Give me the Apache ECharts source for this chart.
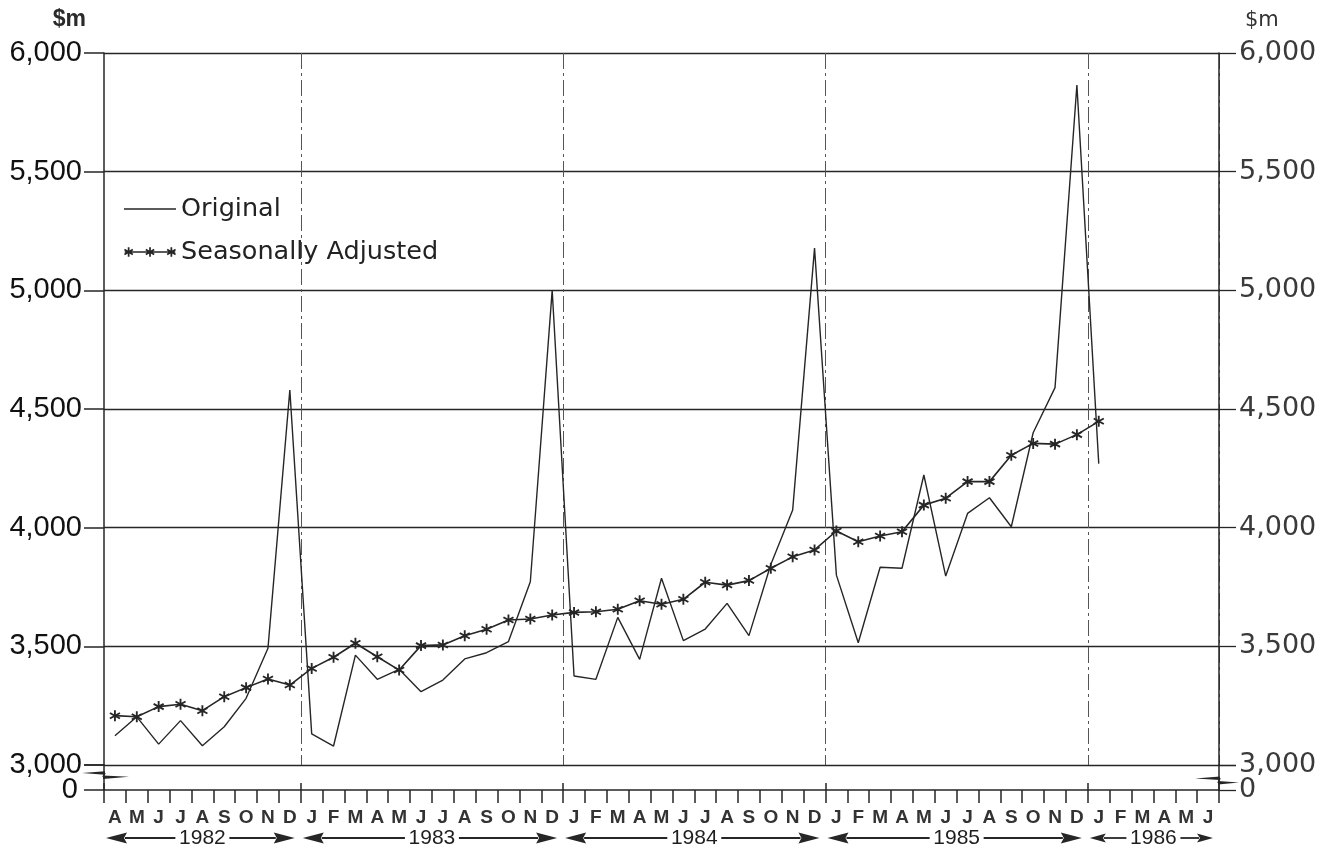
<!DOCTYPE html>
<html><head><meta charset="utf-8">
<script src="https://cdn.jsdelivr.net/npm/echarts@6/dist/echarts.min.js"></script>
<style>html,body{margin:0;padding:0;background:#fff}#c{width:1328px;height:854px}</style>
</head><body><div id="c"></div>
<script>
// ---- data ----
const monthLabels = [
  'A','M','J','J','A','S','O','N','D',
  'J','F','M','A','M','J','J','A','S','O','N','D',
  'J','F','M','A','M','J','J','A','S','O','N','D',
  'J','F','M','A','M','J','J','A','S','O','N','D',
  'J','F','M','A','M','J'
];
const yearLabels = ['1982','1983','1984','1985','1986'];
const yearFirstMonthIndex = [0, 9, 21, 33, 45];
const originalValues = [
  3123, 3203, 3088, 3187, 3081, 3161, 3281, 3492, 4580,
  3131, 3080, 3463, 3361, 3403, 3309, 3358, 3447, 3473, 3520, 3772, 5000,
  3375, 3361, 3622, 3445, 3787, 3524, 3573, 3681, 3545, 3845, 4074, 5178,
  3800, 3515, 3833, 3829, 4222, 3796, 4060, 4126, 4004, 4400, 4590, 5865,
  4270, null, null, null, null, null
];
const seasonallyAdjustedValues = [
  3208, 3203, 3246, 3256, 3229, 3288, 3326, 3362, 3337,
  3407, 3454, 3513, 3456, 3400, 3503, 3506, 3545, 3572, 3611, 3615, 3632,
  3643, 3646, 3656, 3692, 3677, 3698, 3770, 3758, 3777, 3829, 3877, 3906,
  3986, 3941, 3965, 3983, 4095, 4124, 4194, 4194, 4305, 4355, 4352, 4392,
  4448, null, null, null, null, null
];
const yMin = 3000, yMax = 6000, yStep = 500;
const seriesNames = ['Original', 'Seasonally Adjusted'];
const unitLabel = '$m';

// ---- drawing ----
const categories = monthLabels.map((m, i) => i + '-' + m);
const INK = '#262626';
function asteriskPath(cx, cy, L, w) {
  const parts = [];
  [90, 30, 150].forEach(deg => {
    const t = deg * Math.PI / 180, dx = Math.cos(t), dy = Math.sin(t), nx = -dy, ny = dx;
    const pts = [[L*dx + w*nx, L*dy + w*ny], [L*dx - w*nx, L*dy - w*ny], [-L*dx - w*nx, -L*dy - w*ny], [-L*dx + w*nx, -L*dy + w*ny]];
    parts.push('M' + pts.map(p => (cx + p[0]).toFixed(2) + ',' + (cy + p[1]).toFixed(2)).join('L') + 'Z');
  });
  return parts.join(' ');
}
const starSymbol = 'path://' + asteriskPath(5, 5, 5, 0.8);
const legendStarIcon = 'path://M0,5.2L0,6.8L52,6.8L52,5.2Z ' + asteriskPath(4, 6, 5, 0.9) + ' ' + asteriskPath(26, 6, 5, 0.9) + ' ' + asteriskPath(48, 6, 5, 0.9);
const legendLineIcon = 'path://M26,0L26,0.001L26.001,0Z M0,5.2L0,6.8L52,6.8L52,5.2Z M26,12L26,12.001L26.001,12Z';

const janIdx = yearFirstMonthIndex.slice(1);
const leftLabelFont = { fontFamily: 'Liberation Sans', fontSize: 29, color: '#111' };
const rightLabelFont = { fontFamily: 'DejaVu Sans', fontSize: 27, color: '#3a3a3a' };
const fmt = v => v.toLocaleString('en-US');

const chart = echarts.init(document.getElementById('c'), null, { renderer: 'canvas' });
const GL = 104, GR = 109;
chart.setOption({
  backgroundColor: '#ffffff',
  animation: false,
  grid: [
    { left: GL, right: GR, top: 53, bottom: 89, outerBoundsMode: 'none', containLabel: false },
    { left: GL, right: GR, top: 765, bottom: 64, outerBoundsMode: 'none', containLabel: false }
  ],
  legend: {
    orient: 'vertical', left: 124, top: 196, padding: 0, itemGap: 17, itemWidth: 52, itemHeight: 12,
    selectedMode: false,
    textStyle: { fontFamily: 'DejaVu Sans', fontSize: 25.5, color: '#222' },
    data: [{ name: seriesNames[0], icon: legendLineIcon }, { name: seriesNames[1], icon: legendStarIcon }]
  },
  xAxis: [
    {
      type: 'category', gridIndex: 0, data: categories, boundaryGap: true,
      axisLine: { show: false, onZero: false }, axisTick: { show: false }, axisLabel: { show: false },
      splitLine: { show: true, interval: (i) => janIdx.indexOf(i) >= 0,
        lineStyle: { color: '#555', width: 1, type: [16, 4, 3, 4] } }
    },
    {
      type: 'category', gridIndex: 1, data: categories, boundaryGap: true, position: 'bottom',
      axisLine: { show: true, onZero: false, lineStyle: { color: INK, width: 1.5 } },
      axisTick: { show: true, interval: 0, length: 13, lineStyle: { color: INK, width: 1.5 } },
      axisLabel: { interval: 0, margin: 18, formatter: (v, i) => monthLabels[i],
        fontFamily: 'Liberation Sans', fontWeight: 'bold', fontSize: 19, color: '#333' },
      splitLine: { show: false }
    },
    {
      type: 'category', gridIndex: 1, data: categories, boundaryGap: true, position: 'bottom',
      axisLine: { show: false, onZero: false },
      axisTick: { show: true, inside: true, length: 7, interval: (i) => janIdx.indexOf(i) >= 0 || i === 0,
        lineStyle: { color: INK, width: 1.5 } },
      axisLabel: { show: false }, splitLine: { show: false }
    }
  ],
  yAxis: [
    {
      type: 'value', gridIndex: 0, position: 'left', min: yMin, max: yMax, interval: yStep,
      name: unitLabel, nameLocation: 'end', nameGap: 22,
      nameTextStyle: { fontFamily: 'Liberation Sans', fontWeight: 'bold', fontSize: 23, color: '#2a2a2a', align: 'right', padding: [0, 18, 0, 0] },
      axisLine: { show: true, lineStyle: { color: INK, width: 1.5 } },
      axisTick: { show: true, length: 20, lineStyle: { color: INK, width: 1.5 } },
      axisLabel: Object.assign({ margin: 22, formatter: fmt }, leftLabelFont),
      splitLine: { show: true, lineStyle: { color: INK, width: 1.3 } }
    },
    {
      type: 'value', gridIndex: 0, position: 'right', min: yMin, max: yMax, interval: yStep,
      name: unitLabel, nameLocation: 'end', nameGap: 22,
      nameTextStyle: { fontFamily: 'DejaVu Sans', fontSize: 21, color: '#333', align: 'left', padding: [0, 0, 0, 26] },
      axisLine: { show: true, lineStyle: { color: INK, width: 1.5 } },
      axisTick: { show: true, length: 17, lineStyle: { color: INK, width: 1.3 } },
      axisLabel: Object.assign({ margin: 20, formatter: fmt }, rightLabelFont),
      splitLine: { show: false }
    },
    {
      type: 'value', gridIndex: 1, position: 'left', min: 0, max: 1, interval: 1,
      axisLine: { show: true, lineStyle: { color: INK, width: 1.5 } },
      axisTick: { show: true, length: 20, lineStyle: { color: INK, width: 1.5 } },
      axisLabel: Object.assign({ margin: 26, formatter: v => (v === 0 ? '0' : '') }, leftLabelFont),
      splitLine: { show: false }
    },
    {
      type: 'value', gridIndex: 1, position: 'right', min: 0, max: 1, interval: 1,
      axisLine: { show: true, lineStyle: { color: INK, width: 1.5 } },
      axisTick: { show: true, length: 17, lineStyle: { color: INK, width: 1.3 } },
      axisLabel: Object.assign({ margin: 20, formatter: v => (v === 0 ? '0' : '') }, rightLabelFont),
      splitLine: { show: false }
    }
  ],
  series: [
    {
      name: seriesNames[0], type: 'line', xAxisIndex: 0, yAxisIndex: 0, data: originalValues,
      symbol: 'none', connectNulls: false, color: INK,
      lineStyle: { color: INK, width: 1.4 }, emphasis: { disabled: true }, z: 3
    },
    {
      name: seriesNames[1], type: 'line', xAxisIndex: 0, yAxisIndex: 0, data: seasonallyAdjustedValues,
      symbol: starSymbol, symbolSize: 11, showAllSymbol: true, color: INK,
      itemStyle: { color: INK }, lineStyle: { color: INK, width: 1.6 }, emphasis: { disabled: true }, z: 4
    }
  ]
});

// year spans with arrows under the month labels
function buildYearGraphics() {
  const c0 = chart.convertToPixel({ xAxisIndex: 1 }, 0);
  const c1 = chart.convertToPixel({ xAxisIndex: 1 }, 1);
  const band = c1 - c0;
  const boundary = i => c0 + band * i - band / 2;
  const yy = 838;
  const els = [];
  yearLabels.forEach((lab, k) => {
    const last = k === yearLabels.length - 1;
    const b0 = boundary(yearFirstMonthIndex[k]);
    const b1 = boundary(last ? monthLabels.length : yearFirstMonthIndex[k + 1]);
    const lt = b0 + 2, rt = b1 - 6, mid = (b0 + b1) / 2;
    const half = 27, headL = last ? 16 : 21, headH = last ? 4.5 : 5.5;
    els.push({ type: 'text', x: mid, y: yy, style: { text: lab, fontFamily: 'Liberation Sans', fontSize: 21, fill: '#1e1e1e', align: 'center', verticalAlign: 'middle' } });
    els.push({ type: 'line', shape: { x1: lt + headL - 2, y1: yy, x2: mid - half, y2: yy }, style: { stroke: INK, lineWidth: 1.8 } });
    els.push({ type: 'line', shape: { x1: mid + half, y1: yy, x2: rt - headL + 2, y2: yy }, style: { stroke: INK, lineWidth: 1.8 } });
    els.push({ type: 'polygon', shape: { points: [[lt, yy], [lt + headL, yy - headH], [lt + headL - 3, yy], [lt + headL, yy + headH]] }, style: { fill: INK } });
    els.push({ type: 'polygon', shape: { points: [[rt, yy], [rt - headL, yy - headH], [rt - headL + 3, yy], [rt - headL, yy + headH]] }, style: { fill: INK } });
  });
  // axis break marks between 3,000 and 0
  const xl = GL, xr = 1328 - GR;
  els.push({ type: 'rect', shape: { x: xl - 2, y: 771, width: 4, height: 7 }, style: { fill: '#fff' } });
  els.push({ type: 'polygon', shape: { points: [[82, 773], [xl + 1, 771.2], [xl + 1, 774.8]] }, style: { fill: INK } });
  els.push({ type: 'polygon', shape: { points: [[xl - 1, 775.5], [xl - 1, 779], [xl + 25, 776.8]] }, style: { fill: INK } });
  els.push({ type: 'line', shape: { x1: xl + 1, y1: 773, x2: xl - 1, y2: 777 }, style: { stroke: INK, lineWidth: 1.5 } });
  els.push({ type: 'rect', shape: { x: xr - 2, y: 776, width: 4, height: 8 }, style: { fill: '#fff' } });
  els.push({ type: 'polygon', shape: { points: [[xr - 24, 778.5], [xr + 1, 776.5], [xr + 1, 780]] }, style: { fill: INK } });
  els.push({ type: 'polygon', shape: { points: [[xr - 1, 781], [xr - 1, 784.5], [xr + 20, 782.5]] }, style: { fill: INK } });
  els.push({ type: 'line', shape: { x1: xr + 1, y1: 778, x2: xr - 1, y2: 783 }, style: { stroke: INK, lineWidth: 1.5 } });
  chart.setOption({ graphic: els });
}
buildYearGraphics();
</script>
</body></html>
